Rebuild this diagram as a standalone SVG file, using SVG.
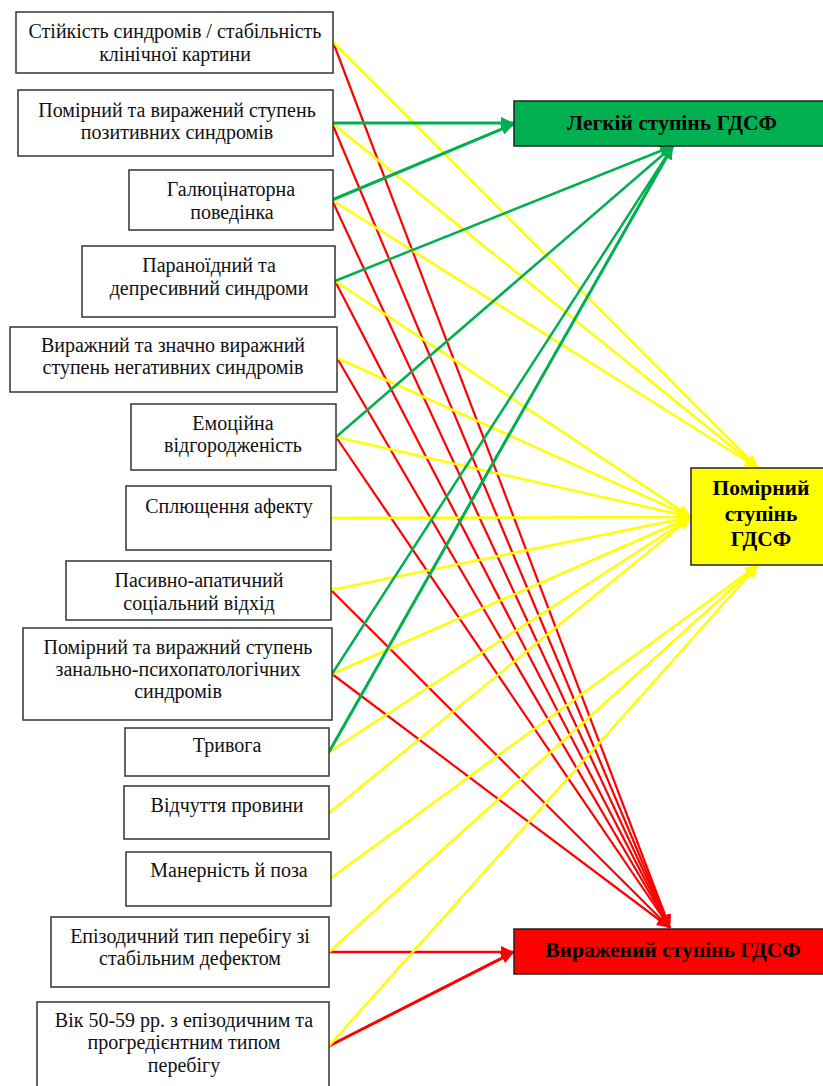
<svg xmlns="http://www.w3.org/2000/svg" width="823" height="1086" viewBox="0 0 823 1086">
<style>
.box{fill:#fff;stroke:#333;stroke-width:1.5}
.t{font-family:"Liberation Serif","Times New Roman",serif;font-size:20px;fill:#111;text-anchor:middle}
.b{font-family:"Liberation Serif","Times New Roman",serif;font-size:21.5px;font-weight:bold;fill:#000;text-anchor:middle}
.g{stroke:#00B050;stroke-width:2.5;fill:none;marker-end:url(#ag)}
.y{stroke:#FFFF00;stroke-width:2.5;fill:none;marker-end:url(#ay)}
.r{stroke:#FF0000;stroke-width:2.2;fill:none;marker-end:url(#ar)}
</style>
<defs>
<marker id="ag" markerUnits="userSpaceOnUse" markerWidth="14" markerHeight="12" refX="13" refY="6" orient="auto"><path d="M0,0 L13,6 L0,12 Z" fill="#00B050"/></marker>
<marker id="ay" markerUnits="userSpaceOnUse" markerWidth="14" markerHeight="12" refX="13" refY="6" orient="auto"><path d="M0,0 L13,6 L0,12 Z" fill="#FFFF00"/></marker>
<marker id="ar" markerUnits="userSpaceOnUse" markerWidth="14" markerHeight="12" refX="13" refY="6" orient="auto"><path d="M0,0 L13,6 L0,12 Z" fill="#FF0000"/></marker>
</defs>
<rect width="823" height="1086" fill="#fff"/>

<g id="connectors">
<line class="r" x1="333" y1="42" x2="670" y2="928"/>
<line class="r" x1="332" y1="123" x2="670" y2="928"/>
<line class="r" x1="332" y1="200" x2="670" y2="928"/>
<line class="r" x1="335" y1="281" x2="670" y2="928"/>
<line class="r" x1="337" y1="358" x2="670" y2="928"/>
<line class="r" x1="336" y1="437" x2="670" y2="928"/>
<line class="r" x1="331" y1="590" x2="670" y2="928"/>
<line class="r" x1="332" y1="674" x2="670" y2="928"/>
<line class="r" x1="329" y1="952" x2="514" y2="952" style="stroke-width:2.5"/>
<line class="r" x1="329" y1="1046" x2="514" y2="952" style="stroke-width:3"/>
<line class="y" x1="333" y1="42" x2="758" y2="468"/>
<line class="y" x1="332" y1="123" x2="758" y2="468"/>
<line class="y" x1="332" y1="200" x2="758" y2="468"/>
<line class="y" x1="335" y1="281" x2="691" y2="517"/>
<line class="y" x1="337" y1="358" x2="691" y2="517"/>
<line class="y" x1="336" y1="437" x2="691" y2="517"/>
<line class="y" x1="331" y1="518" x2="691" y2="517"/>
<line class="y" x1="331" y1="590" x2="691" y2="517"/>
<line class="y" x1="332" y1="674" x2="691" y2="517"/>
<line class="y" x1="329" y1="752" x2="691" y2="517"/>
<line class="y" x1="329" y1="813" x2="691" y2="517"/>
<line class="y" x1="331" y1="878" x2="758" y2="565"/>
<line class="y" x1="329" y1="952" x2="758" y2="565"/>
<line class="y" x1="329" y1="1046" x2="758" y2="565"/>
<line class="g" x1="332" y1="123" x2="514" y2="123" style="stroke-width:3"/>
<line class="g" x1="332" y1="200" x2="514" y2="124" style="stroke-width:3"/>
<line class="g" x1="335" y1="281" x2="673" y2="146"/>
<line class="g" x1="336" y1="437" x2="673" y2="146"/>
<line class="g" x1="332" y1="674" x2="673" y2="146"/>
<line class="g" x1="329" y1="752" x2="673" y2="146" style="stroke-width:3"/>
</g>

<g id="n1"><rect class="box" x="16" y="12" width="317" height="61"/><text class="t" x="175" y="38">Стійкість синдромів / стабільність</text><text class="t" x="175" y="61">клінічної картини</text></g>
<g id="n2"><rect class="box" x="18" y="90" width="315" height="66"/><text class="t" x="177" y="117">Помірний та виражений ступень</text><text class="t" x="177" y="139">позитивних синдромів</text></g>
<g id="n3"><rect class="box" x="129" y="170" width="204" height="60"/><text class="t" x="231" y="196">Галюцінаторна</text><text class="t" x="232" y="219">поведінка</text></g>
<g id="n4"><rect class="box" x="82" y="246" width="253" height="71"/><text class="t" x="209" y="272">Параноїдний та</text><text class="t" x="209" y="295">депресивний синдроми</text></g>
<g id="n5"><rect class="box" x="10" y="327" width="327" height="65"/><text class="t" x="173" y="352">Виражний та значно виражний</text><text class="t" x="173" y="374">ступень негативних синдромів</text></g>
<g id="n6"><rect class="box" x="131" y="404" width="205" height="66"/><text class="t" x="233" y="430">Емоційна</text><text class="t" x="233" y="452">відгородженість</text></g>
<g id="n7"><rect class="box" x="126" y="486" width="205" height="64"/><text class="t" x="229" y="513">Сплющення афекту</text></g>
<g id="n8"><rect class="box" x="66" y="561" width="265" height="59"/><text class="t" x="199" y="587">Пасивно-апатичний</text><text class="t" x="199" y="610">соціальний відхід</text></g>
<g id="n9"><rect class="box" x="23" y="628" width="309" height="92"/><text class="t" x="178" y="654">Помірний та виражний ступень</text><text class="t" x="178" y="676">занально-психопатологічних</text><text class="t" x="178" y="698">синдромів</text></g>
<g id="n10"><rect class="box" x="125" y="728" width="204" height="48"/><text class="t" x="227" y="752">Тривога</text></g>
<g id="n11"><rect class="box" x="124" y="786" width="205" height="53"/><text class="t" x="227" y="812">Відчуття провини</text></g>
<g id="n12"><rect class="box" x="126" y="852" width="205" height="54"/><text class="t" x="229" y="877">Манерність й поза</text></g>
<g id="n13"><rect class="box" x="51" y="917" width="278" height="70"/><text class="t" x="190" y="943">Епізодичний тип перебігу зі</text><text class="t" x="190" y="965">стабільним дефектом</text></g>
<g id="n14"><rect class="box" x="37" y="1002" width="292" height="92"/><text class="t" x="184" y="1027">Вік 50-59 рр. з епізодичним та</text><text class="t" x="184" y="1049">прогредієнтним типом</text><text class="t" x="184" y="1072">перебігу</text></g>

<g id="mild"><rect x="514" y="101" width="320" height="45" fill="#00B050" stroke="#222" stroke-width="1.5"/><text class="b" x="672" y="130">Легкій ступінь ГДСФ</text></g>
<g id="moderate"><rect x="691" y="468" width="140" height="97" fill="#FFFF00" stroke="#222" stroke-width="1.5"/><text class="b" x="761" y="495">Помірний</text><text class="b" x="761" y="521">ступінь</text><text class="b" x="761" y="546">ГДСФ</text></g>
<g id="severe"><rect x="514" y="929" width="320" height="45" fill="#FF0000" stroke="#222" stroke-width="1.5"/><text class="b" x="673" y="957">Виражений ступінь ГДСФ</text></g>
</svg>
